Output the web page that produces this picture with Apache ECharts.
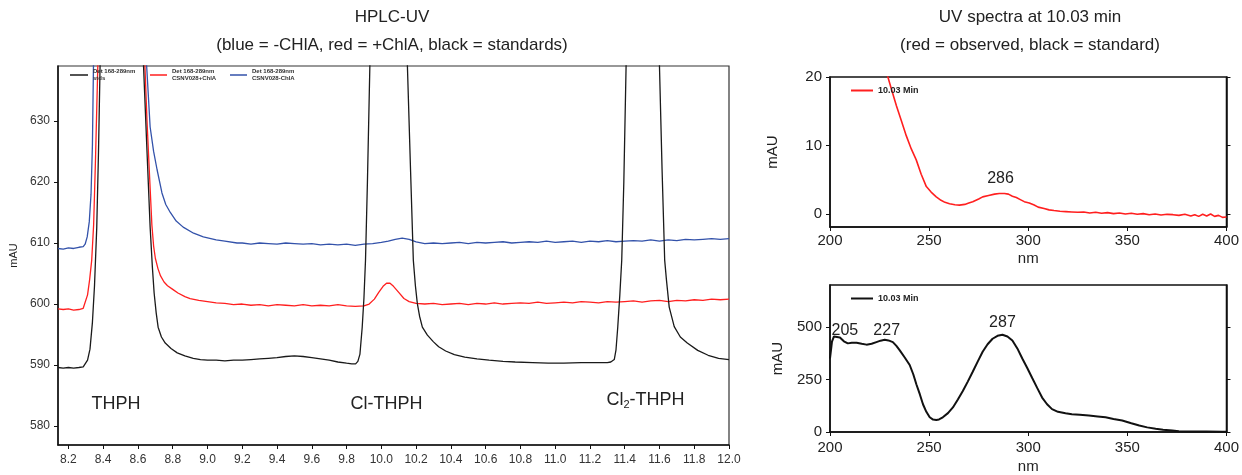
<!DOCTYPE html>
<html><head><meta charset="utf-8">
<script src="https://cdn.jsdelivr.net/npm/echarts@6/dist/echarts.min.js"></script>
<style>html,body{margin:0;padding:0;background:#fff}#c{width:1242px;height:475px}</style>
</head><body><div id="c"></div>
<script>
// ---- HPLC-UV chromatograms: [time (min), mAU] ----
const stdsTrace = [[8.14,589.6],[8.17,589.5],[8.20,589.6],[8.23,589.5],[8.26,589.6],[8.285,589.7],[8.296,589.9],[8.31,590.8],[8.324,592.6],[8.338,597],[8.35,603],[8.363,612.6],[8.373,625],[8.382,639],[8.40,680],[8.50,760],[8.60,690],[8.632,639],[8.652,625],[8.67,612.6],[8.683,606],[8.693,601.8],[8.705,598.5],[8.716,596.2],[8.735,594.6],[8.757,593.6],[8.79,592.7],[8.826,592.0],[8.87,591.5],[8.918,591.1],[8.96,590.9],[9.0,590.8],[9.05,590.8],[9.10,590.7],[9.15,590.8],[9.20,590.8],[9.25,590.9],[9.30,591.0],[9.35,591.1],[9.40,591.2],[9.45,591.4],[9.50,591.5],[9.55,591.4],[9.60,591.2],[9.65,591.0],[9.70,590.8],[9.75,590.5],[9.80,590.3],[9.83,590.2],[9.852,590.2],[9.865,590.6],[9.877,591.8],[9.89,596.2],[9.90,601],[9.909,607.2],[9.92,620],[9.934,639],[9.96,680],[10.04,740],[10.12,680],[10.15,639],[10.168,622],[10.184,607.2],[10.196,603],[10.207,600.1],[10.22,598],[10.236,596.2],[10.265,594.9],[10.30,593.8],[10.33,593.0],[10.37,592.3],[10.42,591.7],[10.48,591.3],[10.55,591.0],[10.62,590.8],[10.70,590.6],[10.77,590.5],[10.87,590.4],[10.96,590.3],[11.05,590.3],[11.15,590.4],[11.25,590.4],[11.30,590.4],[11.32,590.5],[11.34,590.9],[11.35,592.5],[11.36,596.2],[11.372,601.5],[11.383,607.2],[11.395,620],[11.408,639],[11.45,690],[11.50,730],[11.56,690],[11.60,639],[11.615,622],[11.63,607.2],[11.64,604],[11.656,599.5],[11.685,596.3],[11.72,594.6],[11.76,593.6],[11.82,592.4],[11.88,591.6],[11.94,591.1],[12.0,590.9]];
const plusChlATrace = [[8.14,599.2],[8.17,599.1],[8.20,599.2],[8.23,599.0],[8.26,599.1],[8.285,599.3],[8.296,599.6],[8.31,601.5],[8.322,604],[8.334,607.2],[8.345,613],[8.356,624],[8.369,639],[8.40,690],[8.50,780],[8.60,700],[8.64,639],[8.652,630],[8.665,622],[8.68,613],[8.69,609.5],[8.70,607.5],[8.715,605.8],[8.73,604.6],[8.75,603.6],[8.77,603.0],[8.80,602.4],[8.83,601.8],[8.87,601.2],[8.90,600.9],[8.95,600.6],[9.00,600.4],[9.05,600.2],[9.10,600.1],[9.15,599.9],[9.20,600.0],[9.25,599.8],[9.30,599.9],[9.35,599.7],[9.40,599.9],[9.45,599.8],[9.50,599.7],[9.55,599.9],[9.60,599.7],[9.65,599.8],[9.70,599.7],[9.75,599.9],[9.80,599.7],[9.85,599.6],[9.90,599.7],[9.93,600.0],[9.96,600.8],[9.985,601.9],[10.01,602.9],[10.03,603.4],[10.05,603.4],[10.07,602.9],[10.10,601.9],[10.13,600.9],[10.16,600.4],[10.20,600.1],[10.25,600.0],[10.30,600.1],[10.35,599.9],[10.40,600.0],[10.45,600.1],[10.50,599.9],[10.55,600.1],[10.60,600.0],[10.65,600.2],[10.70,600.0],[10.75,600.1],[10.80,600.2],[10.85,600.1],[10.90,600.3],[10.95,600.1],[11.00,600.2],[11.05,600.3],[11.10,600.2],[11.15,600.4],[11.20,600.3],[11.25,600.2],[11.30,600.4],[11.35,600.3],[11.40,600.4],[11.45,600.5],[11.50,600.3],[11.55,600.5],[11.60,600.6],[11.65,600.4],[11.70,600.6],[11.75,600.5],[11.80,600.7],[11.85,600.6],[11.90,600.8],[11.95,600.7],[12.00,600.8]];
const minusChlATrace = [[8.14,609.1],[8.17,609.0],[8.20,609.2],[8.23,609.1],[8.26,609.3],[8.285,609.4],[8.296,609.8],[8.308,611],[8.32,613.5],[8.33,618],[8.338,626],[8.344,639],[8.40,700],[8.50,790],[8.60,710],[8.65,639],[8.67,629],[8.69,625],[8.71,622],[8.738,618.2],[8.76,616.3],[8.786,615],[8.82,613.6],[8.86,612.6],[8.92,611.6],[8.976,611.0],[9.05,610.5],[9.10,610.3],[9.17,610.0],[9.20,610.0],[9.25,609.8],[9.30,610.0],[9.35,609.9],[9.40,609.8],[9.45,610.0],[9.50,609.9],[9.55,609.8],[9.60,609.9],[9.65,609.7],[9.70,609.8],[9.75,609.7],[9.80,609.8],[9.85,609.6],[9.90,609.8],[9.95,609.9],[10.00,610.1],[10.04,610.3],[10.08,610.6],[10.12,610.8],[10.16,610.6],[10.20,610.2],[10.25,609.9],[10.30,610.0],[10.35,609.9],[10.40,610.0],[10.45,610.1],[10.50,609.9],[10.55,610.1],[10.60,610.0],[10.65,610.1],[10.70,610.2],[10.75,610.0],[10.80,610.1],[10.85,610.2],[10.90,610.1],[10.95,610.3],[11.00,610.1],[11.05,610.2],[11.10,610.3],[11.15,610.1],[11.20,610.3],[11.25,610.2],[11.30,610.4],[11.35,610.2],[11.40,610.3],[11.45,610.4],[11.50,610.3],[11.55,610.5],[11.60,610.3],[11.65,610.5],[11.70,610.4],[11.75,610.6],[11.80,610.5],[11.85,610.6],[11.90,610.7],[11.95,610.6],[12.00,610.7]];
const hplcTimeTicks = [8.2,8.4,8.6,8.8,9.0,9.2,9.4,9.6,9.8,10.0,10.2,10.4,10.6,10.8,11.0,11.2,11.4,11.6,11.8,12.0];
const hplcMauTicks = [580,590,600,610,620,630];

// ---- UV spectra at 10.03 min: [nm, mAU] ----
const observedSpectrum = [[225,26.5],[229.2,20],[231,18.2],[233.5,15.8],[236,13.6],[238.5,11.4],[241,9.5],[243.5,7.9],[246,5.8],[248.6,4.0],[251,3.2],[253.6,2.5],[256,2.0],[258,1.7],[260.3,1.5],[263,1.35],[265.3,1.3],[268,1.4],[270,1.6],[272,1.8],[275,2.2],[277,2.5],[280,2.7],[283,2.9],[285.4,3.0],[288,3.0],[290,2.9],[292,2.6],[294,2.4],[296,2.1],[298,1.8],[300.5,1.6],[303,1.3],[305,1.0],[308,0.8],[310.5,0.6],[313,0.5],[316,0.4],[319,0.35],[322,0.3],[325,0.25],[328,0.3],[331,0.15],[334,0.25],[337,0.1],[340,0.2],[343,0.05],[346,0.15],[349,0.0],[352,0.1],[355,-0.05],[358,0.05],[361,-0.1],[364,0.0],[367,-0.15],[370,-0.05],[373,-0.1],[376,-0.2],[379,-0.05],[382,-0.3],[384,-0.1],[386,-0.35],[388,-0.05],[390,-0.3],[392,0.0],[394,-0.35],[396,-0.2],[398,-0.5],[400,-0.45]];
const standardSpectrum = [[200,350],[201,430],[202,455],[203,462],[205,450],[207,432],[209,422],[211,425],[213.4,425],[216,420],[218.4,416],[221,420],[223.4,428],[225.5,435],[227.6,439],[229.5,436],[231.7,428],[233.5,410],[235.2,389],[237.7,355],[240.2,319],[242,275],[243.6,226],[245.3,180],[246.9,132],[248.6,96],[250.3,70],[252,59],[253.6,57],[255,60],[256.9,70],[259.5,90],[262,117],[264.5,155],[267,195],[269.5,240],[272,287],[274.5,335],[277,382],[279.5,418],[282,444],[284.5,458],[287,463],[289.5,455],[292,436],[294.5,398],[297,350],[299.5,305],[302,257],[304.5,210],[307,164],[309.5,132],[312,109],[315,96],[318.8,89],[322,85],[326,82],[330.6,78],[335,74],[339,70],[343,62],[347.4,55],[352,42],[356,31],[360,22],[364.3,16],[368,11],[372.7,7],[376,4],[381,2],[390,2],[398,1],[400,1]];
const nmTicks = [200,250,300,350,400];
const observedMauTicks = [0,10,20];
const standardMauTicks = [0,250,500];

const FONT = 'Liberation Sans, Arial, sans-serif';
const chart = echarts.init(document.getElementById('c'));

function hidden(){ return {show:false}; }
const axLine = {show:true, onZero:false, lineStyle:{color:'#111', width:1.5}};

const option = {
  animation:false,
  textStyle:{fontFamily:FONT},
  graphic:[
    {type:'text', x:392, y:9, style:{text:'HPLC-UV', font:'17px '+FONT, fill:'#222', textAlign:'center'}},
    {type:'text', x:392, y:37, style:{text:'(blue = -CHlA, red = +ChlA, black = standards)', font:'17px '+FONT, fill:'#222', textAlign:'center'}},
    {type:'text', x:1030, y:9, style:{text:'UV spectra at 10.03 min', font:'17px '+FONT, fill:'#222', textAlign:'center'}},
    {type:'text', x:1030, y:37, style:{text:'(red = observed, black = standard)', font:'17px '+FONT, fill:'#222', textAlign:'center'}}
  ],
  grid:[
    {left:58, top:66, width:671, height:379, show:true, borderColor:'#333', borderWidth:1.2},
    {left:830, top:77, width:398, height:150, show:true, borderColor:'#111', borderWidth:1.5},
    {left:830, top:285, width:398, height:150, show:true, borderColor:'#111', borderWidth:1.5}
  ],
  legend:[
    {data:['stds'], left:70, top:68, padding:0, icon:'rect', itemWidth:18, itemHeight:1.5, itemGap:2,
     formatter:n=>'Det 168-289nm\n'+n, textStyle:{fontSize:6, fontWeight:'bold', color:'#333', lineHeight:7}},
    {data:['CSNV028+ChlA'], left:150, top:68, padding:0, icon:'rect', itemWidth:17, itemHeight:1.5,
     formatter:n=>'Det 168-289nm\n'+n, textStyle:{fontSize:6, fontWeight:'bold', color:'#333', lineHeight:7}},
    {data:['CSNV028-ChlA'], left:230, top:68, padding:0, icon:'rect', itemWidth:17, itemHeight:1.5,
     formatter:n=>'Det 168-289nm\n'+n, textStyle:{fontSize:6, fontWeight:'bold', color:'#333', lineHeight:7}},
    {data:['observed'], left:851, top:86, padding:0, icon:'rect', itemWidth:22, itemHeight:2,
     formatter:()=>'10.03 Min', textStyle:{fontSize:9, fontWeight:'bold', color:'#222'}},
    {data:['standard'], left:851, top:294, padding:0, icon:'rect', itemWidth:22, itemHeight:2,
     formatter:()=>'10.03 Min', textStyle:{fontSize:9, fontWeight:'bold', color:'#222'}}
  ],
  xAxis:[
    {gridIndex:0, type:'value', min:8.14, max:12.0, axisLine:axLine, splitLine:hidden(),
     axisTick:{show:true, customValues:hplcTimeTicks, length:4, lineStyle:{color:'#111'}},
     axisLabel:{customValues:hplcTimeTicks, formatter:v=>v.toFixed(1), fontSize:12, color:'#333', margin:9}},
    {gridIndex:1, type:'value', min:200, max:400, axisLine:axLine, splitLine:hidden(),
     axisTick:{show:true, customValues:nmTicks, length:4, lineStyle:{color:'#111'}},
     axisLabel:{customValues:nmTicks, fontSize:15, color:'#222', margin:6},
     name:'nm', nameLocation:'middle', nameGap:24, nameTextStyle:{fontSize:15, color:'#222'}},
    {gridIndex:2, type:'value', min:200, max:400, axisLine:axLine, splitLine:hidden(),
     axisTick:{show:true, customValues:nmTicks, length:4, lineStyle:{color:'#111'}},
     axisLabel:{customValues:nmTicks, fontSize:15, color:'#222', margin:8},
     name:'nm', nameLocation:'middle', nameGap:27, nameTextStyle:{fontSize:15, color:'#222'}}
  ],
  yAxis:[
    {gridIndex:0, type:'value', min:576.9, max:639, axisLine:axLine, splitLine:hidden(),
     axisTick:{show:true, customValues:hplcMauTicks, length:4, lineStyle:{color:'#111'}},
     axisLabel:{customValues:hplcMauTicks, fontSize:12, color:'#333', margin:8},
     name:'mAU', nameLocation:'middle', nameGap:38, nameTextStyle:{fontSize:11, color:'#222'}},
    {gridIndex:1, type:'value', min:-1.9, max:20, axisLine:axLine, splitLine:hidden(),
     axisTick:{show:true, customValues:observedMauTicks, length:4, lineStyle:{color:'#111'}},
     axisLabel:{customValues:observedMauTicks, fontSize:15, color:'#222', margin:8},
     name:'mAU', nameLocation:'middle', nameGap:50, nameTextStyle:{fontSize:15, color:'#222'}},
    {gridIndex:1, type:'value', position:'right', min:-1.9, max:20, axisLine:axLine, splitLine:hidden(),
     axisTick:{show:true, customValues:observedMauTicks, length:4, lineStyle:{color:'#111'}},
     axisLabel:{show:false}},
    {gridIndex:2, type:'value', min:0, max:700, axisLine:axLine, splitLine:hidden(),
     axisTick:{show:true, customValues:standardMauTicks, length:4, lineStyle:{color:'#111'}},
     axisLabel:{customValues:standardMauTicks, fontSize:15, color:'#222', margin:8},
     name:'mAU', nameLocation:'middle', nameGap:45, nameTextStyle:{fontSize:15, color:'#222'}},
    {gridIndex:2, type:'value', position:'right', min:0, max:700, axisLine:axLine, splitLine:hidden(),
     axisTick:{show:true, customValues:standardMauTicks, length:4, lineStyle:{color:'#111'}},
     axisLabel:{show:false}}
  ],
  series:[
    {name:'stds', type:'line', xAxisIndex:0, yAxisIndex:0, data:stdsTrace, showSymbol:false, symbol:'none',
     lineStyle:{color:'#1a1a1a', width:1.3}, itemStyle:{color:'#1a1a1a'}, z:3,
     markPoint:{symbol:'circle', symbolSize:1, itemStyle:{color:'rgba(0,0,0,0)'},
       label:{show:true, position:'inside', formatter:'{b}', fontSize:18, color:'#222',
         rich:{a:{fontSize:18, color:'#222'}, s:{fontSize:11, color:'#222', padding:[10,0,0,0]}}},
       data:[
         {name:'THPH', coord:[8.474,583.6]},
         {name:'Cl-THPH', coord:[10.03,583.6]},
         {name:'Cl2', coord:[11.52,584.2], label:{formatter:'{a|Cl}{s|2}{a|-THPH}'}}
       ]}},
    {name:'CSNV028+ChlA', type:'line', xAxisIndex:0, yAxisIndex:0, data:plusChlATrace, showSymbol:false, symbol:'none',
     lineStyle:{color:'#ff1f1f', width:1.3}, itemStyle:{color:'#ff1f1f'}, z:2},
    {name:'CSNV028-ChlA', type:'line', xAxisIndex:0, yAxisIndex:0, data:minusChlATrace, showSymbol:false, symbol:'none',
     lineStyle:{color:'#3352aa', width:1.3}, itemStyle:{color:'#3352aa'}, z:1},
    {name:'observed', type:'line', xAxisIndex:1, yAxisIndex:1, data:observedSpectrum, showSymbol:false, symbol:'none',
     lineStyle:{color:'#ff1f1f', width:1.6}, itemStyle:{color:'#ff1f1f'},
     markPoint:{symbol:'circle', symbolSize:1, itemStyle:{color:'rgba(0,0,0,0)'},
       label:{show:true, position:'inside', formatter:'{b}', fontSize:16, color:'#222'},
       data:[{name:'286', coord:[286,5.1]}]}},
    {name:'standard', type:'line', xAxisIndex:2, yAxisIndex:3, data:standardSpectrum, showSymbol:false, symbol:'none',
     lineStyle:{color:'#111', width:2}, itemStyle:{color:'#111'},
     markPoint:{symbol:'circle', symbolSize:1, itemStyle:{color:'rgba(0,0,0,0)'},
       label:{show:true, position:'inside', formatter:'{b}', fontSize:16, color:'#222'},
       data:[{name:'205', coord:[207.5,481]},{name:'227', coord:[228.6,481]},{name:'287', coord:[287,523]}]}}
  ]
};
chart.setOption(option);
</script></body></html>
